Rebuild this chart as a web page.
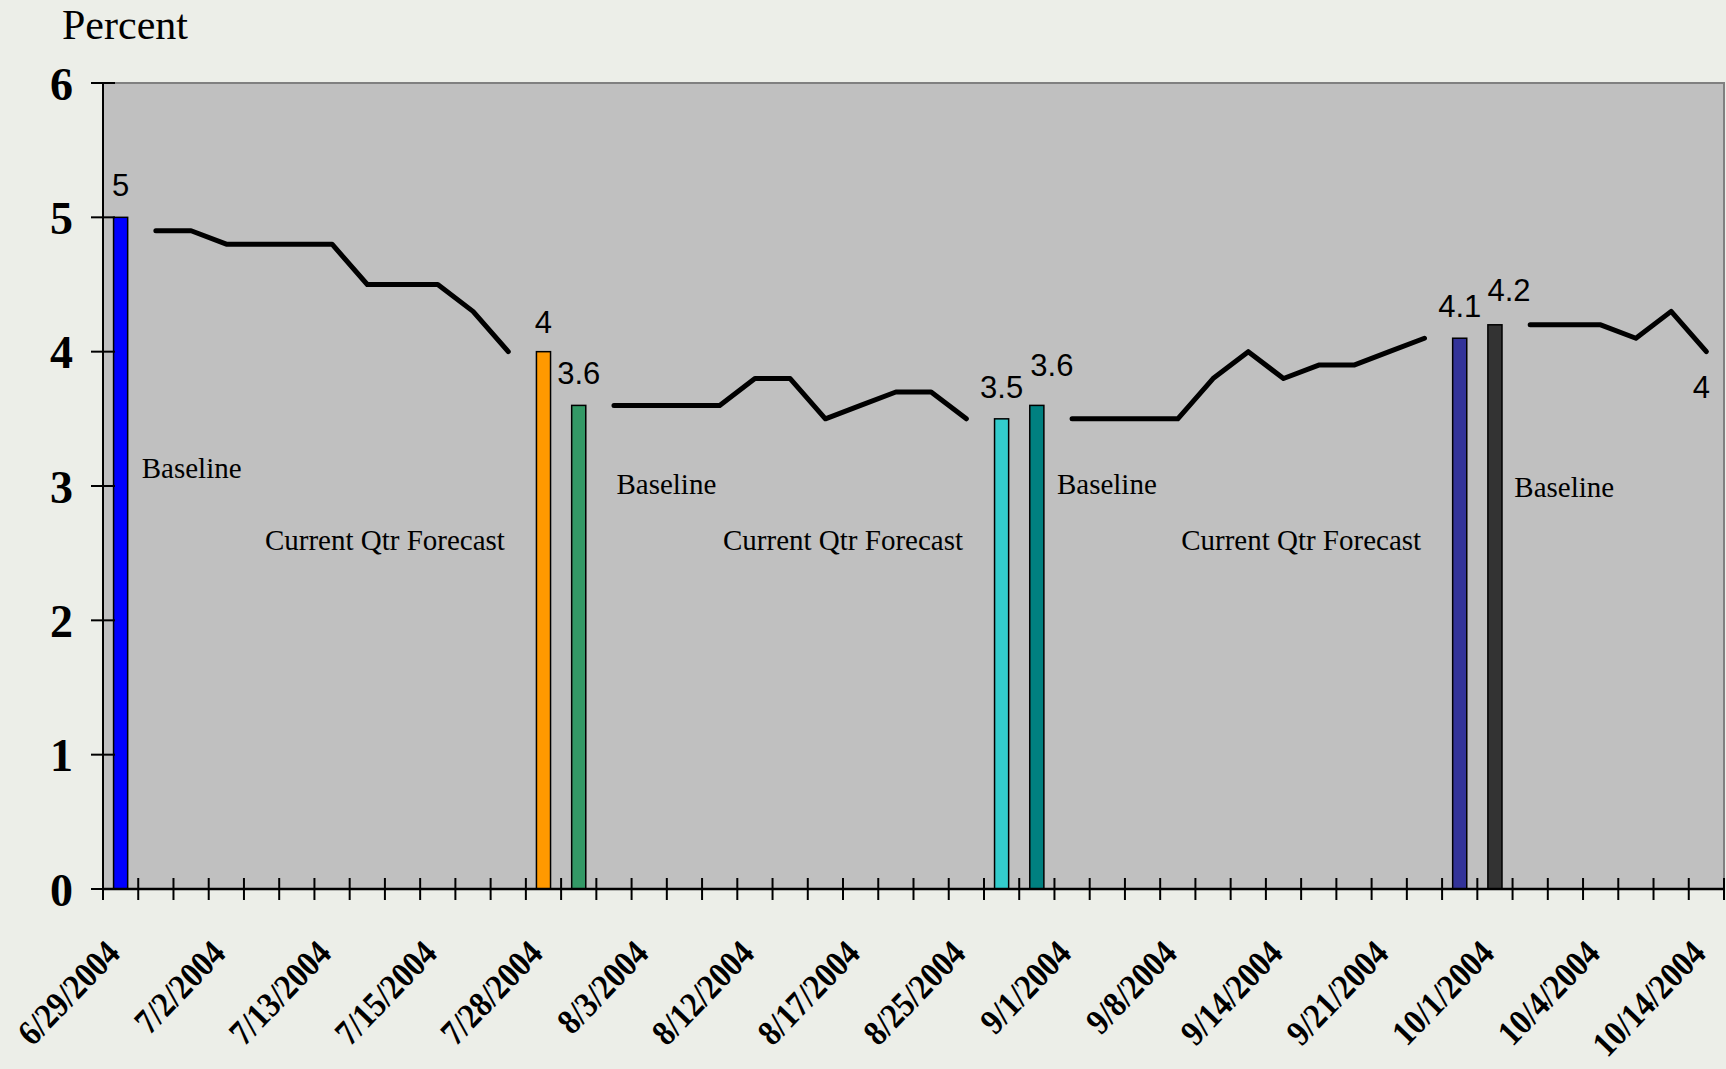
<!DOCTYPE html>
<html>
<head>
<meta charset="utf-8">
<script src="https://cdn.jsdelivr.net/npm/d3@7"></script>
<style>
  html, body { margin: 0; padding: 0; background: #eceee8; }
  svg { display: block; }
</style>
</head>
<body>
<div id="chart-container"></div>
<script>
// 46 category slots on the x axis, only every third one carries a date label
const categoryCount = 46
const tickLabels = [
  '6/29/2004', '7/2/2004', '7/13/2004', '7/15/2004', '7/28/2004', '8/3/2004',
  '8/12/2004', '8/17/2004', '8/25/2004', '9/1/2004', '9/8/2004', '9/14/2004',
  '9/21/2004', '10/1/2004', '10/4/2004', '10/14/2004',
]
const tickLabelEvery = 3

// baseline bars
const barCategories = [0, 12, 13, 25, 26, 38, 39]
const barValues = [5, 4, 3.6, 3.5, 3.6, 4.1, 4.2]
const barColors = ['#0000ff', '#ff9900', '#339966', '#33cccc', '#008080', '#333399', '#333333']

// current quarter forecast lines (start category + values)
const forecastStarts = [1, 14, 27, 40]
const forecast1 = [4.9, 4.9, 4.8, 4.8, 4.8, 4.8, 4.5, 4.5, 4.5, 4.3, 4.0]
const forecast2 = [3.6, 3.6, 3.6, 3.6, 3.8, 3.8, 3.5, 3.6, 3.7, 3.7, 3.5]
const forecast3 = [3.5, 3.5, 3.5, 3.5, 3.8, 4.0, 3.8, 3.9, 3.9, 4.0, 4.1]
const forecast4 = [4.2, 4.2, 4.2, 4.1, 4.3, 4.0]
const forecasts = [forecast1, forecast2, forecast3, forecast4]

// text annotations, anchored in category units / percent
const noteTexts = ['Baseline', 'Current Qtr Forecast', 'Baseline', 'Current Qtr Forecast',
  'Baseline', 'Current Qtr Forecast', 'Baseline']
const noteAt = [1.1, 8, 14.57, 21, 27.07, 34, 40.05]
const noteValue = [3.056, 2.52, 2.94, 2.52, 2.94, 2.52, 2.92]

const yTicks = [0, 1, 2, 3, 4, 5, 6]

const width = 1726
const height = 1069
const margin = { top: 83, right: 2, bottom: 180, left: 103 }

const serif = "'Liberation Serif', 'Times New Roman', serif"
const sans = "'Liberation Sans', Arial, sans-serif"

const svg = d3
  .select('#chart-container')
  .append('svg')
  .attr('width', width)
  .attr('height', height)

const x = d3
  .scaleBand()
  .domain(d3.range(categoryCount))
  .range([margin.left, width - margin.right])
  .padding(0)

// same axis in continuous category units, for tick marks and notes
const xu = d3
  .scaleLinear()
  .domain([0, categoryCount])
  .range([margin.left, width - margin.right])

const y = d3
  .scaleLinear()
  .domain([0, 6])
  .range([height - margin.bottom, margin.top])

// plot area
svg
  .append('rect')
  .attr('x', margin.left)
  .attr('y', margin.top)
  .attr('width', width - margin.left - margin.right)
  .attr('height', height - margin.top - margin.bottom)
  .attr('fill', '#c0c0c0')
  .attr('stroke', '#808080')
  .attr('stroke-width', 2)

// bars
const barWidth = x.bandwidth() * 0.4
svg
  .append('g')
  .selectAll('rect')
  .data(barValues)
  .join('rect')
  .attr('x', (d, i) => x(barCategories[i]) + x.bandwidth() / 2 - barWidth / 2)
  .attr('y', d => y(d))
  .attr('width', barWidth)
  .attr('height', d => y(0) - y(d))
  .attr('fill', (d, i) => barColors[i])
  .attr('stroke', '#000')
  .attr('stroke-width', 1.5)

// forecast lines
const line = d3
  .line()
  .x(d => x(d.c) + x.bandwidth() / 2)
  .y(d => y(d.v))

svg
  .append('g')
  .selectAll('path')
  .data(forecasts.map((vals, k) => vals.map((v, i) => ({ c: forecastStarts[k] + i, v }))))
  .join('path')
  .attr('d', line)
  .attr('fill', 'none')
  .attr('stroke', '#000')
  .attr('stroke-width', 5)
  .attr('stroke-linejoin', 'round')
  .attr('stroke-linecap', 'round')

// bar value labels (two are nudged like in the original)
const barLabelDx = [0, 0, 0, 0, 15, 0, 14]
const barLabelDy = [-21, -19, -21, -21, -29, -21, -24]
svg
  .append('g')
  .selectAll('text')
  .data(barValues)
  .join('text')
  .attr('x', (d, i) => x(barCategories[i]) + x.bandwidth() / 2 + barLabelDx[i])
  .attr('y', (d, i) => y(d) + barLabelDy[i])
  .attr('text-anchor', 'middle')
  .attr('font-family', sans)
  .attr('font-size', 31)
  .attr('fill', '#000')
  .text(d => d)

// label for the last forecast point, placed under it
const lastCat = forecastStarts[3] + forecast4.length - 1
const lastVal = forecast4[forecast4.length - 1]
svg
  .append('text')
  .attr('x', x(lastCat) + x.bandwidth() / 2 - 5)
  .attr('y', y(lastVal) + 46)
  .attr('text-anchor', 'middle')
  .attr('font-family', sans)
  .attr('font-size', 31)
  .text(lastVal)

// notes
svg
  .append('g')
  .selectAll('text')
  .data(noteTexts)
  .join('text')
  .attr('x', (d, i) => xu(noteAt[i]))
  .attr('y', (d, i) => y(noteValue[i]))
  .attr('text-anchor', d => (d === 'Baseline' ? 'start' : 'middle'))
  .attr('font-family', serif)
  .attr('font-size', 29)
  .text(d => d)

// y axis
const yAxis = svg.append('g')
yAxis
  .append('line')
  .attr('x1', margin.left)
  .attr('x2', margin.left)
  .attr('y1', y(6))
  .attr('y2', y(0))
  .attr('stroke', '#000')
  .attr('stroke-width', 2)
yAxis
  .selectAll('.tick')
  .data(yTicks)
  .join('line')
  .attr('x1', margin.left - 12)
  .attr('x2', margin.left + 12)
  .attr('y1', d => y(d))
  .attr('y2', d => y(d))
  .attr('stroke', '#000')
  .attr('stroke-width', 2)
yAxis
  .selectAll('text')
  .data(yTicks)
  .join('text')
  .attr('x', margin.left - 30)
  .attr('y', d => y(d))
  .attr('dy', '0.36em')
  .attr('text-anchor', 'end')
  .attr('font-family', serif)
  .attr('font-weight', 'bold')
  .attr('font-size', 46)
  .text(d => d)

// x axis
const xAxis = svg.append('g')
xAxis
  .append('line')
  .attr('x1', margin.left)
  .attr('x2', width - margin.right)
  .attr('y1', y(0))
  .attr('y2', y(0))
  .attr('stroke', '#000')
  .attr('stroke-width', 2.5)
xAxis
  .selectAll('.tick')
  .data(d3.range(categoryCount + 1))
  .join('line')
  .attr('x1', d => xu(d))
  .attr('x2', d => xu(d))
  .attr('y1', y(0) - 11)
  .attr('y2', y(0) + 11)
  .attr('stroke', '#000')
  .attr('stroke-width', 2)
xAxis
  .selectAll('text')
  .data(tickLabels)
  .join('text')
  .attr('transform', (d, i) => {
    const cx = x(i * tickLabelEvery) + x.bandwidth() / 2 + 1
    return `translate(${cx},${y(0) + 66}) rotate(-46) scale(0.93, 1.05)`
  })
  .attr('text-anchor', 'end')
  .attr('font-family', serif)
  .attr('font-weight', 'bold')
  .attr('font-size', 34)
  .text(d => d)

// axis title
svg
  .append('text')
  .attr('x', 62)
  .attr('y', 39)
  .attr('font-family', serif)
  .attr('font-size', 42)
  .text('Percent')
</script>
</body>
</html>
